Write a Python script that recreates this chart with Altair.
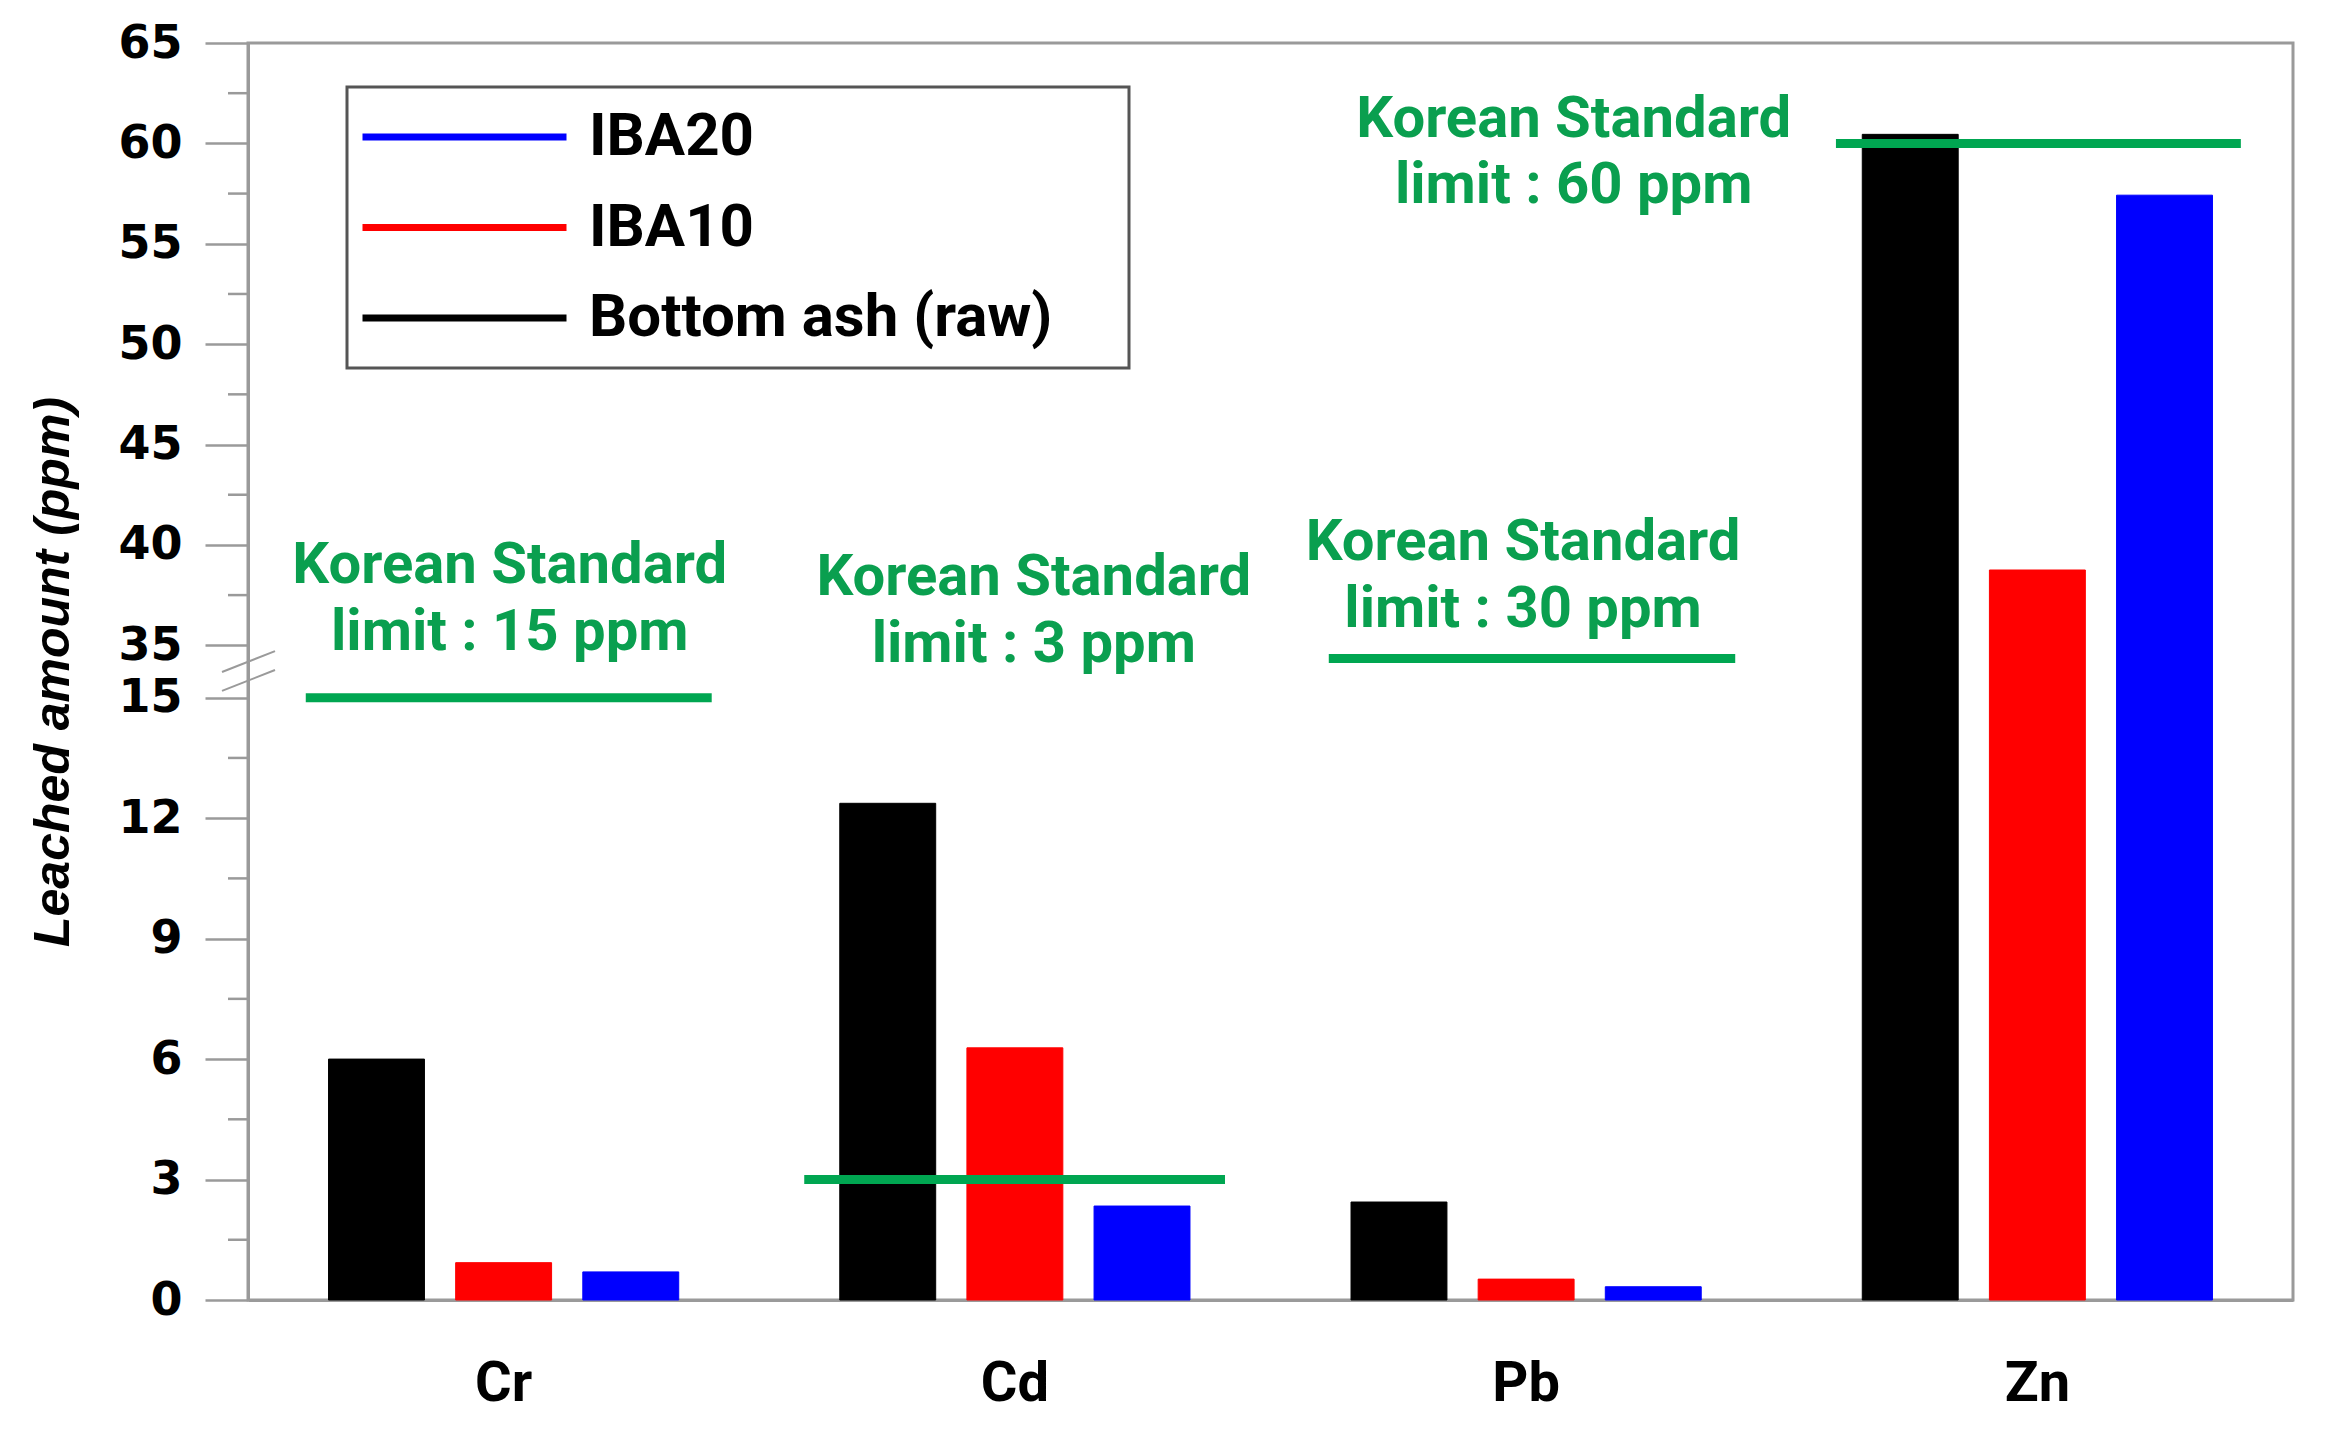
import altair as alt
import pandas as pd

# ---------------- data ----------------
elements = ["Cr", "Cd", "Pb", "Zn"]
bar_order = ["Bottom ash (raw)", "IBA10", "IBA20"]
legend_order = ["IBA20", "IBA10", "Bottom ash (raw)"]
legend_colors = ["#0000ff", "#ff0000", "#000000"]

raw_values = [6.0, 12.37, 2.44, 60.45]
iba10_values = [0.93, 6.28, 0.52, 38.75]
iba20_values = [0.70, 2.34, 0.33, 57.42]

limit_values = [15, 3, 30, 60]
limit_title = "Korean Standard"
limit_texts = [f"limit : {v} ppm" for v in limit_values]

low_ticks = [0, 3, 6, 9, 12, 15]
high_ticks = [35, 40, 45, 50, 55, 60, 65]
low_minor = [1.5, 4.5, 7.5, 10.5, 13.5]
high_minor = [37.5, 42.5, 47.5, 52.5, 57.5, 62.5]

# ---------------- broken-axis mapping ----------------
BREAK_LO = 15
BREAK_HI = 35
GAP_TOP = 16.305     # axis units where 35 sits
RATIO = 0.5          # upper segment compression
TOP = GAP_TOP + (65 - BREAK_HI) * RATIO


def to_axis(v):
    if v <= BREAK_LO:
        return v
    if v < BREAK_HI:
        return BREAK_LO + (v - BREAK_LO) * (GAP_TOP - BREAK_LO) / (BREAK_HI - BREAK_LO)
    return GAP_TOP + (v - BREAK_HI) * RATIO


def axis_expr(f):
    return (f"datum.{f} <= {BREAK_LO} ? datum.{f} : (datum.{f} < {BREAK_HI} ? "
            f"{BREAK_LO} + (datum.{f} - {BREAK_LO}) * {(GAP_TOP - BREAK_LO) / (BREAK_HI - BREAK_LO)} : "
            f"{GAP_TOP} + (datum.{f} - {BREAK_HI}) * {RATIO})")


major_pos = [to_axis(v) for v in low_ticks + high_ticks]
minor_pos = [to_axis(v) for v in low_minor + high_minor]

# ---------------- annotation layout (group units / axis units) ----------------
ann_x = [0.512, 1.537, 2.494, 2.593]
ann_y1 = [17.86, 17.56, 18.43, 28.97]
ann_y2 = [16.19, 15.89, 16.76, 27.32]
line_x0 = [0.113, 1.088, 2.114, 3.106]
line_x1 = [0.907, 1.911, 2.909, 3.898]

rows = []
for i, e in enumerate(elements):
    rows.append({"element": e, "series": "Bottom ash (raw)", "value": raw_values[i]})
    rows.append({"element": e, "series": "IBA10", "value": iba10_values[i]})
    rows.append({"element": e, "series": "IBA20", "value": iba20_values[i]})
bar_df = pd.DataFrame(rows)

limit_df = pd.DataFrame({"element": elements, "limit": limit_values,
                         "x0": line_x0, "x1": line_x1})

ann_rows = []
for i in range(len(elements)):
    ann_rows.append({"gx": ann_x[i], "gy": ann_y1[i], "t": limit_title})
    ann_rows.append({"gx": ann_x[i], "gy": ann_y2[i], "t": limit_texts[i]})
ann_df = pd.DataFrame(ann_rows)

minor_df = pd.DataFrame({"m": minor_pos})
break_df = pd.DataFrame({"b0": [15.64, 15.17], "b1": [16.16, 15.69]})

GREEN_TXT = "#0a9f4f"
GREEN_LINE = "#00a651"
GRAY = "#9a9a9a"
W, H = 2045, 1257

yscale = alt.Scale(domain=[0, TOP], nice=False, zero=True)
xq = alt.Scale(domain=[0, 4], nice=False, zero=False)

label_expr = (f"datum.value <= {BREAK_LO + 0.001} ? datum.label : "
              f"format({BREAK_HI} + (datum.value - {GAP_TOP}) / {RATIO}, 'd')")

yaxis = alt.Axis(values=major_pos, labelExpr=label_expr, grid=False,
                 title="Leached amount (ppm)", titleFont="Liberation Sans",
                 titleFontStyle="italic", titleFontWeight="bold", titleFontSize=50,
                 titleColor="black", titleAngle=270, titleAlign="center",
                 titleBaseline="middle", titleX=-195, titleY=H / 2,
                 labelFont="DejaVu Sans", labelFontWeight="bold", labelFontSize=46,
                 labelColor="black", labelPadding=23, tickSize=43, tickWidth=2.5,
                 tickColor=GRAY, domainColor=GRAY, domainWidth=3, labelFlush=False,
                 labelOverlap=False)

# invisible spacer title on the right widens the legend frame like the reference
legend = alt.Legend(title="MM", titleOrient="right", titleOpacity=0,
                    titleFont="Roboto", titleFontSize=30, titlePadding=12,
                    orient="none", legendX=99, legendY=44,
                    symbolType="stroke", symbolSize=41616,
                    symbolStrokeWidth=7, clipHeight=76, rowPadding=14.5,
                    labelFont="Roboto", labelFontWeight="bold",
                    labelFontSize=60, labelColor="black", labelLimit=3000,
                    labelOffset=19, padding=12, strokeColor="#555555",
                    fillColor="white")

series_scale = alt.Scale(domain=legend_order, range=legend_colors)

bars = alt.Chart(bar_df).transform_calculate(
    yv=axis_expr("value")
).mark_bar(strokeWidth=1).encode(
    x=alt.X("element:N", sort=elements,
            scale=alt.Scale(paddingInner=0.315, paddingOuter=0.1575),
            axis=alt.Axis(title=None, labelFont="Roboto", labelFontWeight="bold",
                          labelFontSize=56, labelColor="black", labelPadding=56,
                          ticks=False, labelAngle=0, domainColor=GRAY, domainWidth=3)),
    xOffset=alt.XOffset("series:N", sort=bar_order,
                        scale=alt.Scale(paddingInner=0.2456, paddingOuter=0)),
    y=alt.Y("yv:Q", scale=yscale, axis=yaxis),
    color=alt.Color("series:N", scale=series_scale, legend=legend),
    stroke=alt.Stroke("series:N", scale=series_scale, legend=legend),
)

limit_lines = alt.Chart(limit_df).transform_calculate(
    ly=axis_expr("limit")
).mark_rule(color=GREEN_LINE, strokeWidth=9).encode(
    x=alt.X("x0:Q", scale=xq, axis=None),
    x2="x1:Q",
    y=alt.Y("ly:Q", scale=yscale, axis=yaxis),
)

ann = alt.Chart(ann_df).mark_text(font="Roboto", fontWeight="bold", fontSize=58,
                                  color=GREEN_TXT, align="center", baseline="alphabetic").encode(
    x=alt.X("gx:Q", scale=xq, axis=None),
    y=alt.Y("gy:Q", scale=yscale, axis=yaxis),
    text="t:N",
)

minor = alt.Chart(minor_df).mark_rule(color=GRAY, strokeWidth=2.5).encode(
    y=alt.Y("m:Q", scale=yscale, axis=yaxis),
    x=alt.value(-20),
    x2=alt.value(0),
)

breaks = alt.Chart(break_df).mark_rule(color=GRAY, strokeWidth=2).encode(
    y=alt.Y("b0:Q", scale=yscale, axis=yaxis),
    y2="b1:Q",
    x=alt.value(-26),
    x2=alt.value(27),
)

chart = alt.layer(bars, limit_lines, ann, minor, breaks).resolve_scale(
    x="independent"
).properties(
    width=W, height=H,
    autosize=alt.AutoSizeParams(type="none"),
    padding={"left": 240, "top": 35, "right": 30, "bottom": 130},
).configure_view(stroke=GRAY, strokeWidth=3).configure_legend(strokeWidth=3)

chart.save("out.html", embed_options={"renderer": "svg", "actions": False})
